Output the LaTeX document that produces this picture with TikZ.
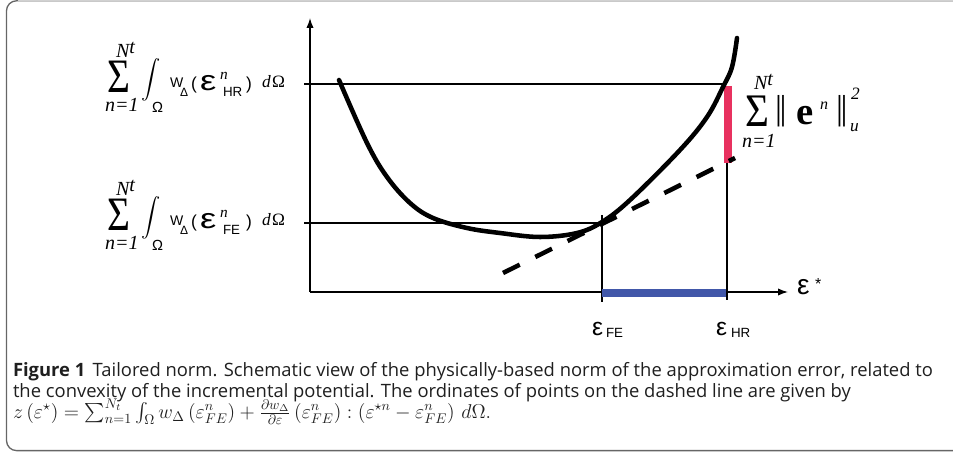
\RequirePackage{fix-cm}
\documentclass[tikz,border=0pt]{standalone}
\usepackage{amsmath}
\usepackage{fontspec}
\usepackage{graphicx}
\usetikzlibrary{arrows.meta}
\setmainfont{Open Sans}
\newfontfamily\arialf{Liberation Sans}
\newfontfamily\tnrf{Liberation Serif}
\definecolor{normred}{HTML}{E8315F}
\definecolor{normblue}{HTML}{4157A9}
\newcommand\fs[1]{\fontsize{#1}{#1}\selectfont}
\newcommand\bigS{{\tnrf\fs{36}\scalebox{0.82}[1]{Σ}}}
\newcommand\wideeps{{\arialf\fs{21}\scalebox{1.3}[1]{ε}}}
\begin{document}
\begin{tikzpicture}[x=0.75pt,y=-0.75pt,
  txt/.style={inner sep=0pt, outer sep=0pt, anchor=base west},
  thinline/.style={line width=1pt, black},
  axisline/.style={thinline, -{Latex[length=7.5pt,width=5.5pt]}},
  curveline/.style={line width=3.4pt, black, line cap=round},
  tangent/.style={line width=3.4pt, black, dash pattern=on 14pt off 13pt},
  normbar/.style={line width=6pt, normred},
  gapbar/.style={line width=6pt, normblue},
  captext/.style={txt, font=\fs{13.8}, text=black!88}]
\useasboundingbox (0,0) rectangle (953,452);
% frame
\draw[rounded corners=7.5pt, line width=1pt, black!60] (953,0.8) -- (6.5,0.8) -- (6.5,450.6) -- (953,450.6);
\draw[line width=1pt, black!18] (18,0.8) -- (953,0.8);
% axes
\coordinate (O) at (310,292);
\coordinate (ytop) at (310,18);
\coordinate (xend) at (788,292);
\draw[axisline] (O) -- (ytop);
\draw[axisline] (O) -- (xend);
% reference lines
\coordinate (tickHR) at (304,84);
\coordinate (curveHR) at (725,84);
\coordinate (tickFE) at (304,223);
\coordinate (curveFE) at (602,223);
\coordinate (vFEtop) at (602,215);
\coordinate (vFEbot) at (602,302);
\coordinate (vHRtop) at (727,160);
\coordinate (vHRbot) at (727,300);
\draw[thinline] (tickHR) -- (curveHR);
\draw[thinline] (tickFE) -- (curveFE);
\draw[thinline] (vFEtop) -- (vFEbot);
\draw[thinline] (vHRtop) -- (vHRbot);
% bars
\coordinate (redtop) at (728,86);
\coordinate (redbot) at (728,163);
\draw[normbar] (redtop) -- (redbot);
\coordinate (blueL) at (602,293);
\coordinate (blueR) at (726,293);
\draw[gapbar] (blueL) -- (blueR);
% tangent (dashed)
\coordinate (tanA) at (503,273);
\coordinate (tanB) at (735,158);
\draw[tangent] (tanA) -- (tanB);
% potential curve
\draw[curveline] plot[smooth, tension=0.6] coordinates {(339,80) (367,143) (387,177) (410,203) (433,218) (467,228) (500,233) (540,237) (577,233) (602,222) (630,200) (680,150) (707,117) (723,87) (732,67) (737,38)};
% left label HR
\node[txt] (sigHR) at (107,93) {\bigS};
\node[txt, font=\tnrf\itshape\fs{15}] (NtHR) at (116,58) {N\raisebox{3.5pt}{t}};
\node[txt, font=\tnrf\itshape\fs{15}] (nHR) at (105,112) {n=1};
\node[inner sep=0pt, font=\fs{13.5}] (intHR) at (151,80) {$\displaystyle\int$};
\node[txt, font=\arialf\fs{11}] (omHR) at (152,113) {Ω};
\node[txt, font=\arialf\fs{10.5}] (WHR) at (170,88) {W};
\node[txt, font=\arialf\fs{9}] (DHR) at (180,97) {Δ};
\node[txt, font=\arialf\fs{13}] (lpHR) at (191,90) {(};
\node[txt] (eHR) at (200,90.5) {\wideeps};
\node[txt, font=\tnrf\itshape\fs{11.5}] (supHR) at (220,80) {n};
\node[txt, font=\arialf\fs{10}] (subHR) at (223,97) {HR};
\node[txt, font=\arialf\fs{13}] (rpHR) at (246,90) {)};
\node[txt, font=\tnrf\fs{13}] (dOmHR) at (262,88) {\textit{d}\kern1pt Ω};
% left label FE
\node[txt] (sigFE) at (107,231) {\bigS};
\node[txt, font=\tnrf\itshape\fs{15}] (NtFE) at (116,196) {N\raisebox{3.5pt}{t}};
\node[txt, font=\tnrf\itshape\fs{15}] (nFE) at (105,250) {n=1};
\node[inner sep=0pt, font=\fs{13.5}] (intFE) at (151,218) {$\displaystyle\int$};
\node[txt, font=\arialf\fs{11}] (omFE) at (152,251) {Ω};
\node[txt, font=\arialf\fs{10.5}] (WFE) at (170,226) {W};
\node[txt, font=\arialf\fs{9}] (DFE) at (180,235) {Δ};
\node[txt, font=\arialf\fs{13}] (lpFE) at (191,228) {(};
\node[txt] (eFE) at (200,228.5) {\wideeps};
\node[txt, font=\tnrf\itshape\fs{11.5}] (supFE) at (220,218) {n};
\node[txt, font=\arialf\fs{10}] (subFE) at (223,235) {FE};
\node[txt, font=\arialf\fs{13}] (rpFE) at (246,228) {)};
\node[txt, font=\tnrf\fs{13}] (dOmFE) at (262,226) {\textit{d}\kern1pt Ω};
% right label (norm)
\node[txt] (sigN) at (745,127) {{\tnrf\fs{35}\scalebox{0.88}[1]{Σ}}};
\node[txt, font=\tnrf\itshape\fs{15}] (NtN) at (754,90) {N\raisebox{3.5pt}{t}};
\node[txt, font=\tnrf\itshape\fs{15}] (nN) at (742,148) {n=1};
\node[txt, font=\tnrf\fs{26}] (barL) at (775,119.5) {|\kern-1.8pt|};
\node[txt, font=\tnrf\bfseries\fs{29}] (eN) at (796,125) {e};
\node[txt, font=\tnrf\itshape\fs{12}] (supN) at (820,110) {n};
\node[txt, font=\tnrf\fs{26}] (barR) at (836,119.5) {|\kern-1.8pt|};
\node[txt, font=\tnrf\itshape\fs{13}] (twoN) at (851,100) {2};
\node[txt, font=\tnrf\itshape\fs{13}] (uN) at (850,132) {u};
% axis labels
\node[txt, font=\arialf\fs{21}] (epsStar) at (797,295) {ε};
\node[txt, font=\arialf\fs{12}] (star) at (815,290) {*};
\node[txt, font=\arialf\fs{18.5}] (epsFE) at (592,335) {ε};
\node[txt, font=\arialf\fs{10}] (lblFE) at (606,337) {FE};
\node[txt, font=\arialf\fs{18.5}] (epsHR) at (716,335) {ε};
\node[txt, font=\arialf\fs{10}] (lblHR) at (731,337) {HR};
% caption
\node[captext] (cap1) at (13,376) {\textbf{Figure 1}\hspace{0.4em}Tailored norm. Schematic view of the physically-based norm of the approximation error, related to};
\node[captext] (cap2) at (13,397) {the convexity of the incremental potential. The ordinates of points on the dashed line are given by};
\node[captext, font=\fs{15}] (cap3) at (13,418) {$z\left(\varepsilon^{\star}\right) = \mathop{\smash{\sum_{n=1}^{N_t}\int_{\Omega}}} w_{\Delta}\left(\varepsilon^{n}_{FE}\right) + \frac{\partial w_{\Delta}}{\partial \varepsilon}\left(\varepsilon^{n}_{FE}\right) : \left(\varepsilon^{\star n} - \varepsilon^{n}_{FE}\right)\, d\Omega.$};
\end{tikzpicture}
\end{document}
